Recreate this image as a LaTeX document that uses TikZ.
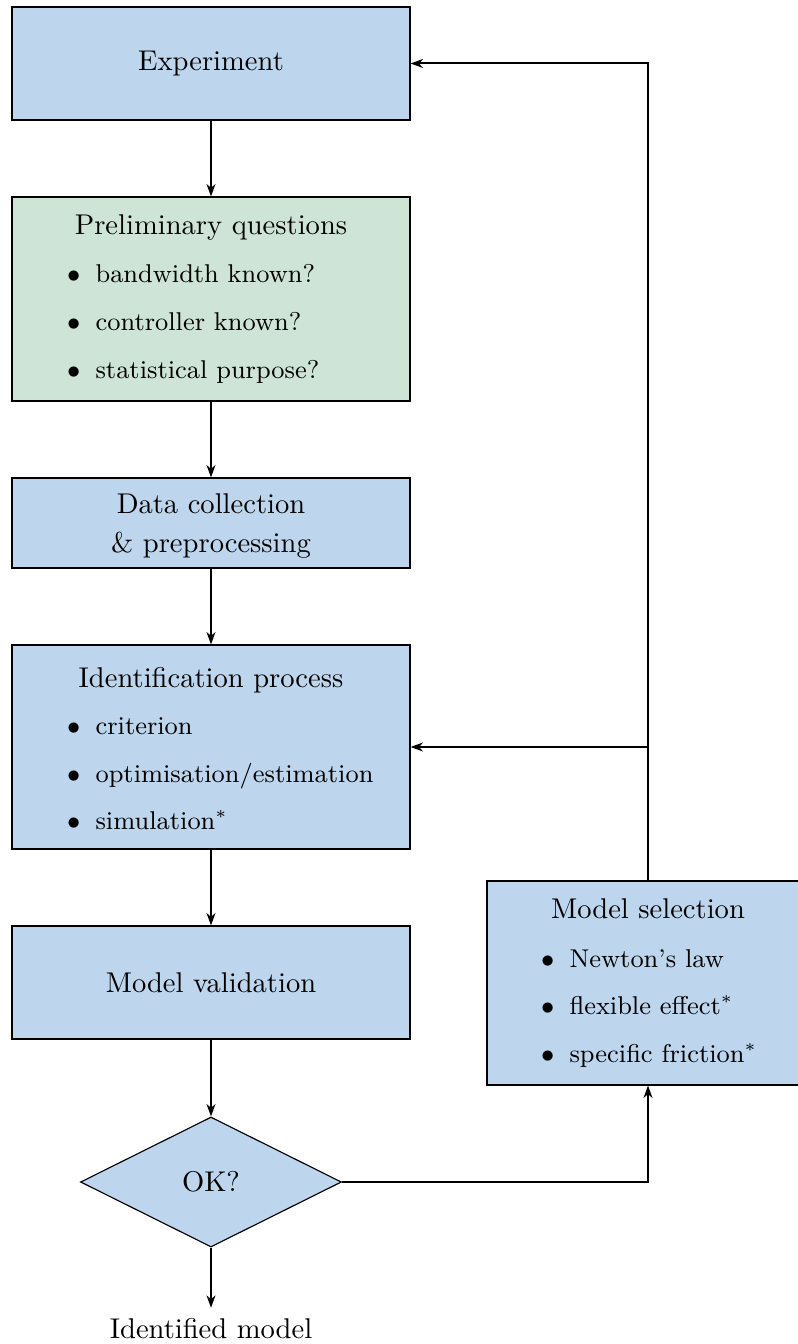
\documentclass[tikz,border=0pt]{standalone}
\usetikzlibrary{shapes.geometric,arrows.meta}
\definecolor{boxblue}{RGB}{190,214,237}
\definecolor{boxgreen}{RGB}{206,228,214}
\newcommand\bulitem{\llap{$\bullet$\hspace{5.3pt}}}
\begin{document}
\begin{tikzpicture}[x=0.35pt,y=-0.35pt,
  box/.style={draw=black, line width=0.4pt, fill=boxblue, inner sep=0pt, minimum width=139.3pt},
  flow/.style={line width=0.7pt, -{Stealth[length=4.3pt,width=3.1pt,inset=1.3pt]}},
  item/.style={anchor=base west, inner sep=0pt, font=\small},
  heading/.style={anchor=base, inner sep=0pt}]
\useasboundingbox (0,0) rectangle (798,1344);

% main column
\node[box, minimum height=39.55pt] (exp) at (211,63.5) {Experiment};

\node[box, fill=boxgreen, minimum height=71.4pt] (pre) at (211,299) {};
\node[heading] (preT) at (211,235) {Preliminary questions};
\node[item] (pre1) at (95,282.5) {\bulitem bandwidth known?};
\node[item] (pre2) at (95,330) {\bulitem controller known?};
\node[item] (pre3) at (95,378) {\bulitem statistical purpose?};

\node[box, minimum height=31.5pt] (data) at (211,523) {};
\node[heading] (dataA) at (211,513) {Data collection};
\node[heading] (dataB) at (211,552) {\& preprocessing};

\node[box, minimum height=71.4pt] (ident) at (211,747) {};
\node[heading] (identT) at (211,687) {Identification process};
\node[item] (ident1) at (95,734) {\bulitem criterion};
\node[item] (ident2) at (95,782) {\bulitem optimisation/estimation};
\node[item] (ident3) at (95,829) {\bulitem simulation$^*$};

\node[box, minimum height=39.55pt] (val) at (211,982.5) {Model validation};

\node[diamond, draw=black, line width=0.4pt, fill=boxblue, inner sep=0pt,
      minimum width=91.35pt, minimum height=45.5pt] (ok) at (211,1182) {OK?};

\node[anchor=base] (out) at (211,1338) {Identified model};

% side box
\node[box, minimum width=112.7pt, minimum height=71.4pt] (sel) at (648,983) {};
\node[heading] (selT) at (648,918) {Model selection};
\node[item] (sel1) at (569,967) {\bulitem Newton's law};
\node[item] (sel2) at (569,1014) {\bulitem flexible effect$^*$};
\node[item] (sel3) at (569,1062) {\bulitem specific friction$^*$};

% connectors
\draw[flow] (exp) -- (pre);
\draw[flow] (pre) -- (data);
\draw[flow] (data) -- (ident);
\draw[flow] (ident) -- (val);
\draw[flow] (val) -- (ok);
\draw[flow] (ok) -- (out);
\draw[flow] (ok.east) -| (sel.south);
\draw[flow] (sel.north) |- (exp.east);
\coordinate (bend) at (sel.north |- ident.east);
\draw[flow] (bend) -- (ident.east);
\end{tikzpicture}
\end{document}
